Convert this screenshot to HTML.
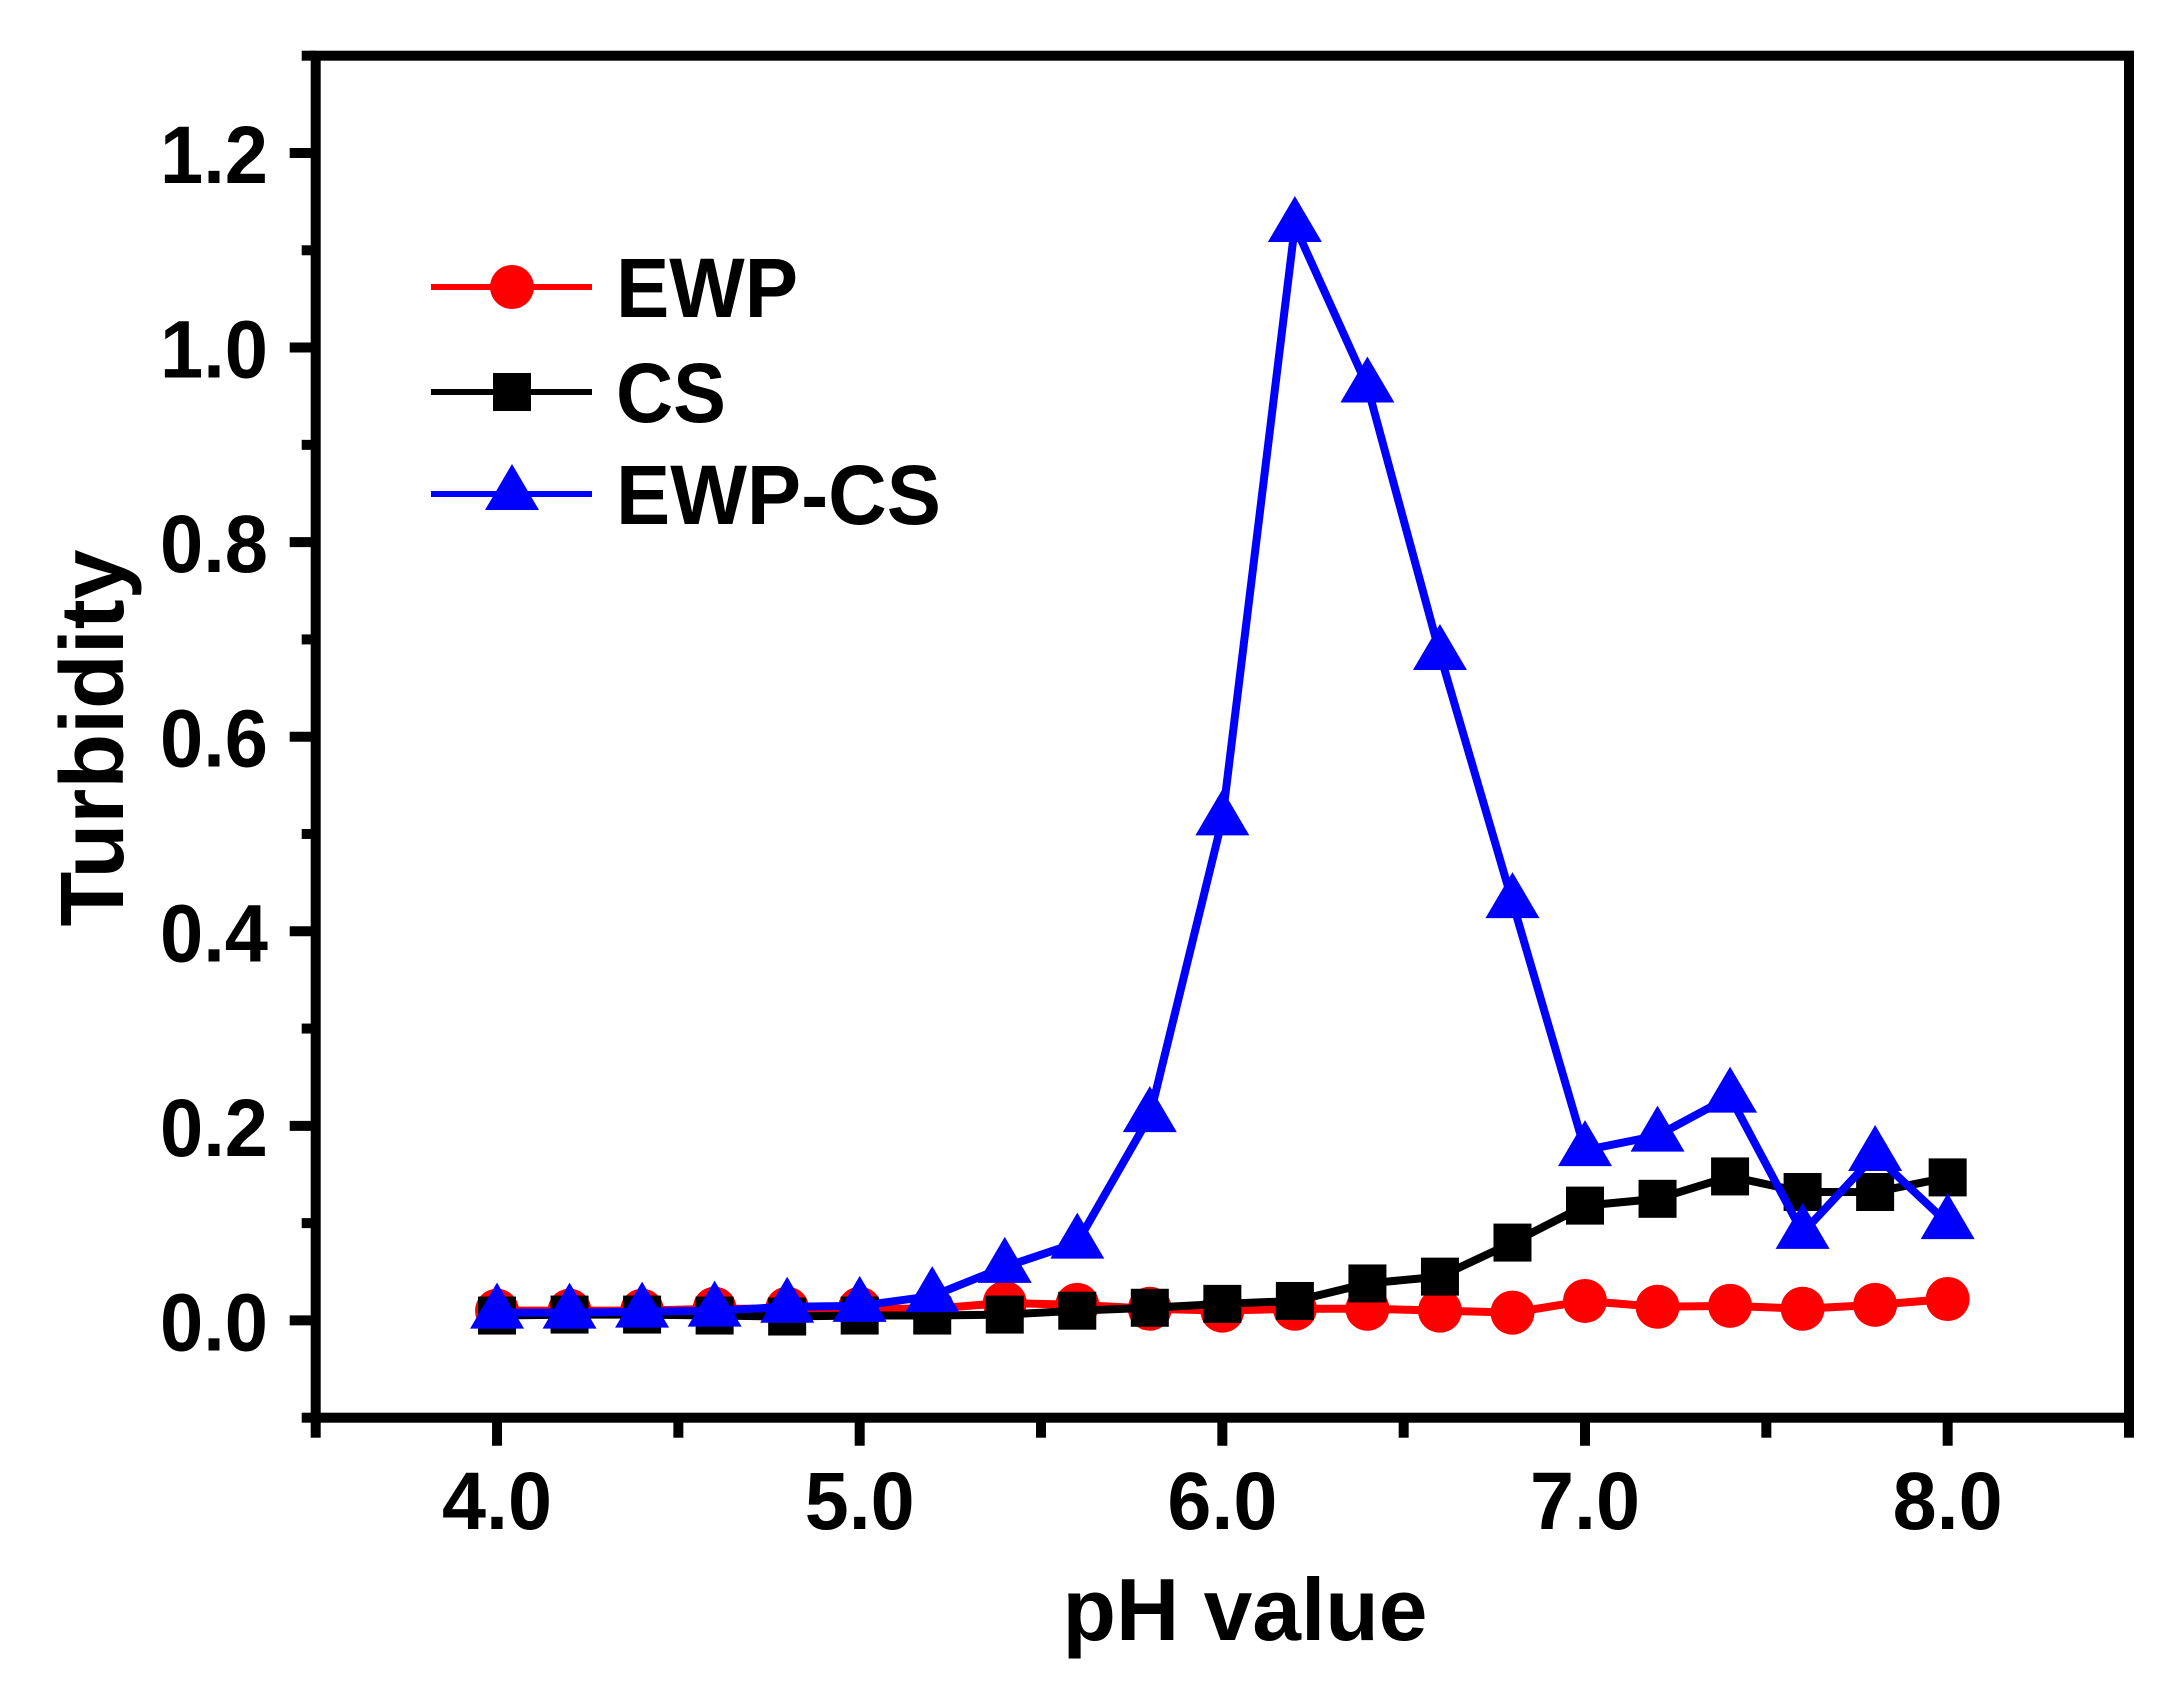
<!DOCTYPE html>
<html><head><meta charset="utf-8"><style>
html,body{margin:0;padding:0;background:#fff;}
svg{display:block;}
text{font-family:"Liberation Sans",Arial,sans-serif;font-weight:bold;fill:#000;}
</style></head><body>
<svg id="chart" width="2168" height="1689" viewBox="0 0 2168 1689" xmlns="http://www.w3.org/2000/svg">
<g id="axes"></g>
<g id="series"></g>
<g id="legend"></g>
<text x="1245" y="1640" font-size="88" text-anchor="middle" textLength="365" lengthAdjust="spacingAndGlyphs">pH value</text>
<text x="0" y="0" font-size="90" text-anchor="middle" textLength="377" lengthAdjust="spacingAndGlyphs" transform="translate(123,738) rotate(-90)">Turbidity</text>
</svg>
<script>
const phValues = [4.0,4.2,4.4,4.6,4.8,5.0,5.2,5.4,5.6,5.8,6.0,6.2,6.4,6.6,6.8,7.0,7.2,7.4,7.6,7.8,8.0];
const ewpValues = [0.010,0.010,0.010,0.012,0.012,0.012,0.012,0.018,0.016,0.012,0.010,0.012,0.012,0.010,0.008,0.020,0.014,0.015,0.012,0.016,0.022];
const csValues = [0.005,0.006,0.006,0.005,0.004,0.005,0.005,0.006,0.010,0.013,0.017,0.020,0.038,0.045,0.080,0.118,0.125,0.148,0.132,0.132,0.147];
const ewpCsValues = [0.008,0.008,0.009,0.010,0.014,0.015,0.025,0.055,0.080,0.210,0.515,1.125,0.960,0.685,0.430,0.175,0.190,0.230,0.090,0.170,0.100];
const xTickLabels = ["4.0","5.0","6.0","7.0","8.0"];
const yTickLabels = ["0.0","0.2","0.4","0.6","0.8","1.0","1.2"];

const NS="http://www.w3.org/2000/svg";
const X0=315.7,X1=2129,Y0=55.7,Y1=1417.7;
const xMin=3.5,xMax=8.5,yMin=-0.1,yMax=1.3;
function sx(v){return X0+(v-xMin)/(xMax-xMin)*(X1-X0);}
function sy(v){return Y1-(v-yMin)/(yMax-yMin)*(Y1-Y0);}
function mk(tag,attrs,parent){const e=document.createElementNS(NS,tag);for(const k in attrs)e.setAttribute(k,attrs[k]);parent.appendChild(e);return e;}

const axes=document.getElementById('axes');
const frame=mk('rect',{x:X0,y:Y0,width:X1-X0,height:Y1-Y0,fill:'none',stroke:'#000','stroke-width':10},axes);


for(let v=3.5;v<=8.5001;v+=0.5){
  const major=Math.abs(v-Math.round(v))<1e-6 && v>=4 && v<=8;
  const t=mk('line',{x1:sx(v),x2:sx(v),y1:Y1,y2:Y1+(major?28:20),stroke:'#000','stroke-width':10},axes);
  
  
}
xTickLabels.forEach(l=>{
  const t=mk('text',{x:sx(parseFloat(l)),y:1529,'font-size':82,'text-anchor':'middle',textLength:110,lengthAdjust:'spacingAndGlyphs'},axes);
  t.textContent=l;
  
  
});
for(let i=-1;i<=13;i++){
  const v=i/10;
  const major=(i%2===0)&&i>=0;
  const t=mk('line',{x1:X0,x2:X0-(major?26:14),y1:sy(v),y2:sy(v),stroke:'#000','stroke-width':10},axes);
  
  
}
yTickLabels.forEach(l=>{
  const t=mk('text',{x:268,y:sy(parseFloat(l))+30,'font-size':82,'text-anchor':'end',textLength:108,lengthAdjust:'spacingAndGlyphs'},axes);
  t.textContent=l;
  
  
});

const series=document.getElementById('series');
function marker(shape,cx,cy,color,parent){
  let e;
  if(shape==='circle') e=mk('circle',{cx:cx,cy:cy,r:22,fill:color},parent);
  else if(shape==='square') e=mk('rect',{x:cx-19,y:cy-19,width:38,height:38,fill:color},parent);
  else e=mk('polygon',{points:`${cx},${cy-30} ${cx-27},${cy+16} ${cx+27},${cy+16}`,fill:color},parent);
  return e;
}
function drawSeries(vals,color,shape,name){
  const g=mk('g',{},series);
  
  
  const pts=phValues.map((p,i)=>sx(p)+','+sy(vals[i])).join(' ');
  const pl=mk('polyline',{points:pts,fill:'none',stroke:color,'stroke-width':8,'stroke-linejoin':'round'},g);
  
  
  phValues.forEach((p,i)=>{
    const m=marker(shape,sx(p),sy(vals[i]),color,g);
    
    
  });
}
drawSeries(ewpValues,'#ff0000','circle','ewp');
drawSeries(csValues,'#000000','square','cs');
drawSeries(ewpCsValues,'#0000ff','triangle','ewp-cs');

const legend=document.getElementById('legend');
[['EWP','#ff0000','circle',287,182],['CS','#000000','square',392,110],['EWP-CS','#0000ff','triangle',494,325]].forEach(([lab,c,sh,y,w])=>{
  const g=mk('g',{},legend);
  
  
  mk('line',{x1:431,x2:592,y1:y,y2:y,stroke:c,'stroke-width':6},g);
  marker(sh,512,y,c,g);
  const t=mk('text',{x:616,y:y+30,'font-size':84,textLength:w,lengthAdjust:'spacingAndGlyphs'},g);
  t.textContent=lab;
});
</script>
</body></html>
